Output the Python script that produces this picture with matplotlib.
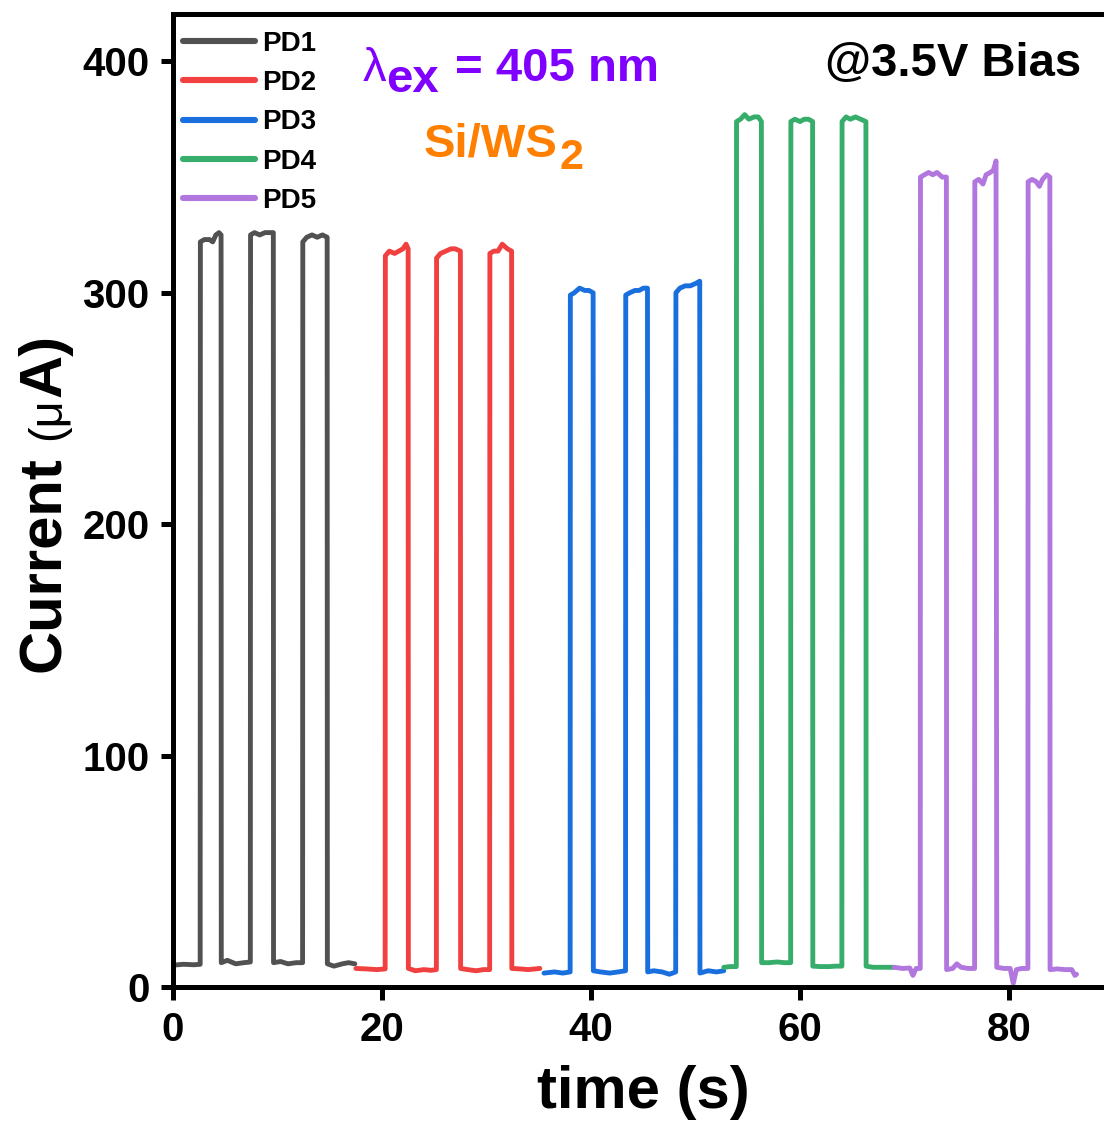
import matplotlib
matplotlib.use("Agg")
import matplotlib.pyplot as plt
from matplotlib.transforms import offset_copy

plt.rcParams['font.family'] = ['Liberation Sans', 'DejaVu Sans']
plt.rcParams['font.weight'] = 'bold'
plt.rcParams['axes.labelweight'] = 'bold'

# on/off photocurrent traces: time (s), current (uA)
t_pd1 = [0.2, 1.0, 2.0, 2.6, 2.62, 3.0, 3.5, 3.8, 4.1, 4.4, 4.6,
         4.62, 5.2, 6.0, 6.8, 7.4,
         7.42, 7.8, 8.3, 8.8, 9.2, 9.6,
         9.62, 10.3, 11.0, 11.8, 12.4,
         12.42, 12.8, 13.3, 13.8, 14.3, 14.75,
         14.77, 15.4, 16.2, 16.8, 17.4]
i_pd1 = [9.5, 9.8, 9.6, 9.8, 322, 323, 323, 322, 325, 326, 325,
         10.5, 11.5, 10.0, 10.5, 10.8,
         325, 326, 325, 326, 326, 326,
         10.5, 11.0, 10.0, 10.5, 10.5,
         322, 324, 325, 324, 325, 324,
         10.0, 9.0, 10.0, 10.5, 10.0]

t_pd2 = [17.5, 18.5, 19.5, 20.3, 20.32, 20.7, 21.2, 21.6, 22.0, 22.3, 22.5,
         22.52, 23.2, 24.0, 24.7, 25.2,
         25.22, 25.6, 26.1, 26.6, 27.0, 27.5,
         27.52, 28.2, 29.0, 29.7, 30.3,
         30.32, 30.7, 31.1, 31.5, 32.0, 32.4,
         32.42, 33.2, 34.0, 35.1]
i_pd2 = [8.0, 7.8, 7.5, 7.8, 316, 318, 317, 318, 319, 321, 319,
         8.0, 7.0, 7.5, 7.2, 7.5,
         315, 317, 318, 319, 319, 318,
         8.0, 7.5, 7.0, 7.5, 7.5,
         317, 318, 318, 321, 319, 318,
         8.0, 7.8, 7.5, 8.0]

t_pd3 = [35.5, 36.5, 37.3, 38.0, 38.02, 38.4, 38.9, 39.4, 39.8, 40.2,
         40.22, 40.9, 41.8, 42.6, 43.3,
         43.32, 43.7, 44.2, 44.6, 45.0, 45.4,
         45.42, 46.0, 46.8, 47.5, 48.1,
         48.12, 48.5, 49.0, 49.5, 50.0, 50.4,
         50.42, 51.2, 52.0, 52.7]
i_pd3 = [6.0, 6.5, 6.0, 6.5, 299, 300, 302, 301, 301, 300,
         7.0, 6.5, 6.0, 6.5, 7.0,
         299, 300, 301, 301, 302, 302,
         6.5, 7.0, 6.5, 5.5, 6.5,
         300, 302, 303, 303, 304, 305,
         6.0, 7.0, 6.5, 7.0]

t_pd4 = [52.7, 53.3, 53.9, 53.92, 54.3, 54.7, 55.1, 55.6, 56.0, 56.3,
         56.32, 57.0, 57.8, 58.5, 59.1,
         59.12, 59.5, 60.0, 60.4, 60.8, 61.2,
         61.22, 62.0, 62.8, 63.4, 64.0,
         64.02, 64.4, 64.8, 65.3, 65.8, 66.3,
         66.32, 67.0, 68.0, 69.0]
i_pd4 = [8.5, 8.8, 8.8, 374, 375, 377, 375, 376, 376, 374,
         10.5, 10.5, 10.8, 10.5, 10.5,
         374, 375, 374, 375, 375, 374,
         9.0, 8.8, 8.8, 9.0, 9.0,
         374, 376, 375, 376, 375, 374,
         9.0, 8.5, 8.5, 8.5]

t_pd5 = [69.0, 69.8, 70.5, 70.8, 71.1, 71.5,
         71.52, 71.9, 72.3, 72.7, 73.1, 73.6, 74.0,
         74.02, 74.6, 75.0, 75.4, 76.1, 76.7,
         76.72, 77.1, 77.5, 77.8, 78.2, 78.5, 78.75,
         78.82, 79.5, 80.1, 80.4, 80.7, 81.2, 81.8,
         81.82, 82.2, 82.6, 82.9, 83.2, 83.6, 83.9,
         83.92, 84.6, 85.4, 86.0, 86.3, 86.45]
i_pd5 = [8.5, 8.0, 8.2, 5.0, 8.0, 8.0,
         350, 351, 352, 351, 352, 350, 350,
         7.5, 8.0, 10.0, 8.5, 8.0, 8.0,
         348, 349, 347, 351, 352, 353, 357,
         8.5, 8.0, 8.0, 1.5, 7.5, 8.0, 8.0,
         348, 349, 348, 346, 349, 351, 350,
         7.5, 7.8, 7.5, 7.5, 5.0, 5.5]

labels = ["PD1", "PD2", "PD3", "PD4", "PD5"]
colors = ["#515151", "#f14040", "#1a6fdf", "#37ad6b", "#b177de"]
times = [t_pd1, t_pd2, t_pd3, t_pd4, t_pd5]
currents = [i_pd1, i_pd2, i_pd3, i_pd4, i_pd5]

x_ticks = [0, 20, 40, 60, 80]
y_ticks = [0, 100, 200, 300, 400]

PURPLE = "#7f00ff"
ORANGE = "#ff7f00"


def text_run(ax, x, y, pieces, vertical=False):
    # lay pieces of text end to end along one baseline (axes coords)
    fig = ax.figure
    r = fig.canvas.get_renderer()
    box = ax.get_window_extent(r)
    span = box.height if vertical else box.width
    pos = y if vertical else x
    for s, size, weight, color, gap, shift in pieces:
        pos += gap * fig.dpi / 72 / span
        if vertical:
            tr = offset_copy(ax.transAxes, fig=fig, x=-shift, y=0, units='points')
            t = ax.text(x, pos, s, transform=tr, rotation=90, rotation_mode='anchor',
                        ha='left', va='baseline', fontsize=size, fontweight=weight,
                        color=color, clip_on=False)
            pos += t.get_window_extent(r).height / span
        else:
            tr = offset_copy(ax.transAxes, fig=fig, x=0, y=shift, units='points')
            t = ax.text(pos, y, s, transform=tr, ha='left', va='baseline',
                        fontsize=size, fontweight=weight, color=color)
            pos += t.get_window_extent(r).width / span


fig = plt.figure(figsize=(11.04, 11.25), dpi=100)
ax = fig.add_axes([0.1567, 0.1227, 0.852, 0.8649])

for t, cur, c, lab in zip(times, currents, colors, labels):
    ax.plot(t, cur, color=c, lw=3.5, label=lab,
            solid_joinstyle='round', solid_capstyle='round')

ax.set_xlim(0, 90)
ax.set_ylim(0, 420.5)
ax.set_xticks(x_ticks)
ax.set_yticks(y_ticks)
ax.tick_params(direction='out', length=9, width=3.6, labelsize=29, pad=8)
for sp in ax.spines.values():
    sp.set_linewidth(3.6)
ax.set_xlabel("time (s)", fontsize=43, labelpad=12)

leg = ax.legend(loc='upper left', bbox_to_anchor=(0, 0.993), frameon=False,
                fontsize=20, handlelength=2.6, handletextpad=0.25,
                labelspacing=0.48, borderpad=0.2, borderaxespad=0.16)
for ln in leg.get_lines():
    ln.set_linewidth(4.4)
    ln.set_solid_capstyle('round')

# y axis title, "(μ" in a lighter face
text_run(ax, -0.1201, 0.3237, [
    ("Current", 43, 'bold', 'black', 0, 0),
    ("(μ", 34, 'normal', 'black', 12, 0),
    ("A)", 43, 'bold', 'black', 0, 0),
], vertical=True)

# excitation wavelength
text_run(ax, 0.2020, 0.9311, [
    ("λ", 34, 'normal', PURPLE, 0, 0),
    ("ex", 34, 'bold', PURPLE, 0, -8),
    ("= 405 nm", 34, 'bold', PURPLE, 11, 0),
])

# material
text_run(ax, 0.2669, 0.853, [
    ("Si/WS", 34, 'bold', ORANGE, 0, 0),
    ("2", 31, 'bold', ORANGE, 1, -9),
])

ax.text(0.6933, 0.936, "@3.5V Bias", transform=ax.transAxes, ha='left',
        va='baseline', fontsize=34, fontweight='bold', color='black')

fig.savefig("out.png", dpi=100)
